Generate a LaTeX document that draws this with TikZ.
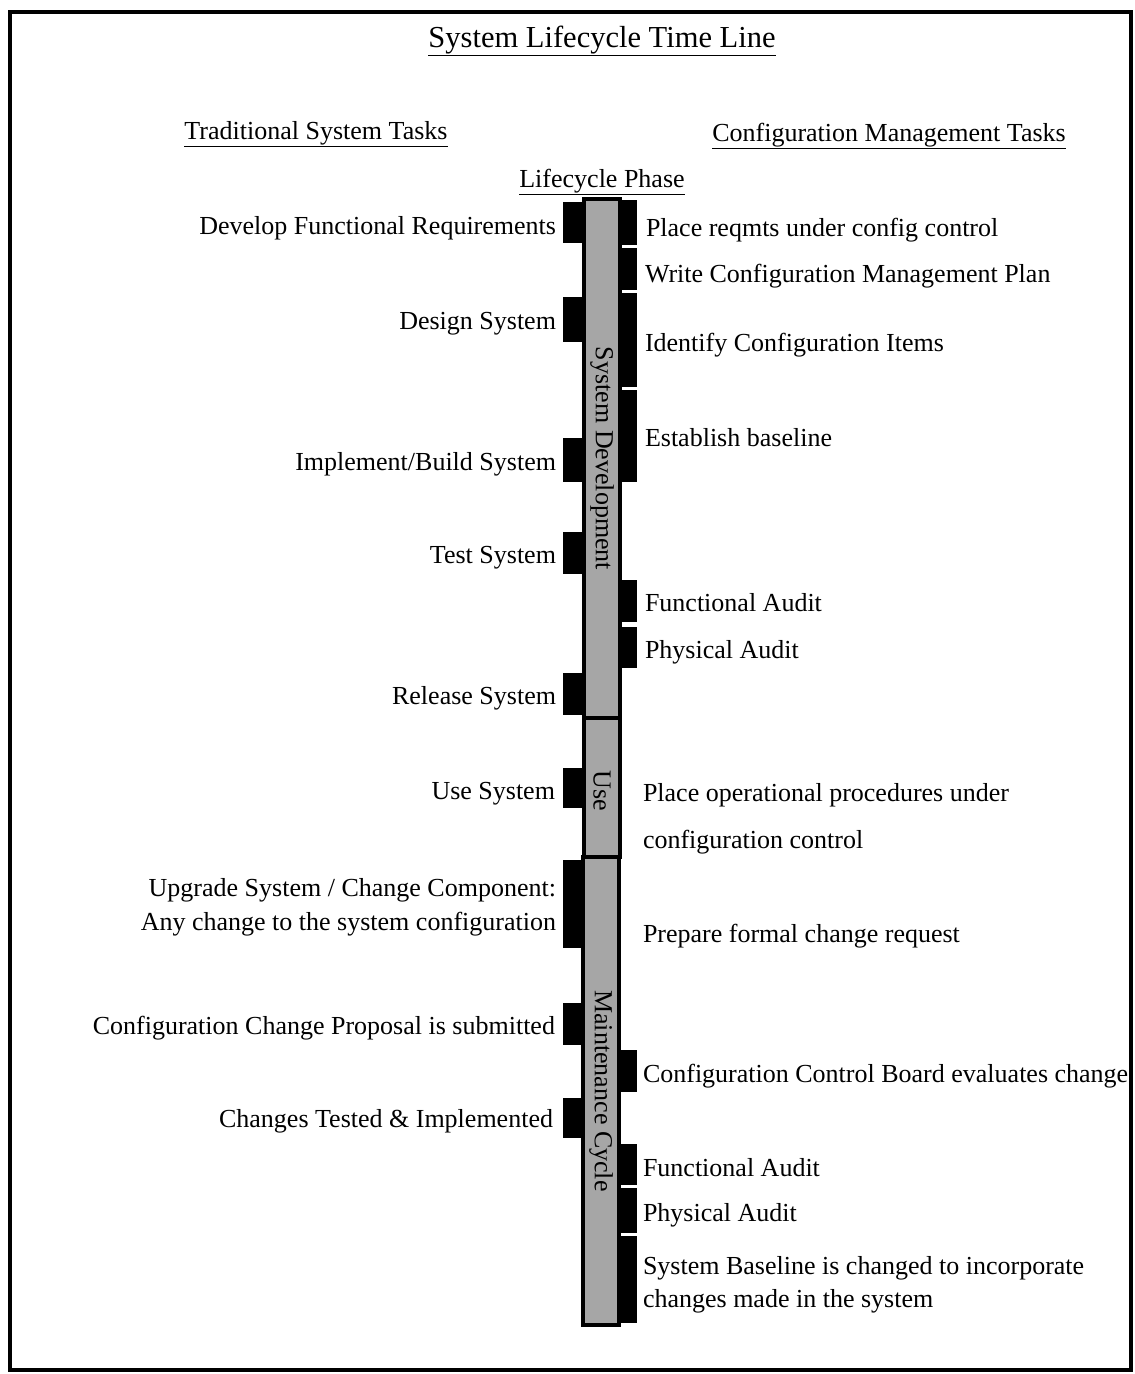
\documentclass[tikz,border=0pt]{standalone}
\usepackage{fontspec}
\setmainfont{Liberation Serif}
\begin{document}
\begin{tikzpicture}[x=1pt,y=-1pt,
  every node/.style={inner sep=0pt, outer sep=0pt},
  txt/.style={font=\fontsize{26}{30}\selectfont},
  lhs/.style={txt, anchor=base east},
  rhs/.style={txt, anchor=base west},
  head/.style={txt, anchor=base},
  phase/.style={draw=black, line width=4pt, fill=black!35},
  tabbox/.style={fill=black, draw=none},
  phaselabel/.style={txt, rotate=-90}
]
\useasboundingbox (0,0) rectangle (1135,1374);
% outer frame
\draw[line width=4pt] (10,12) rectangle (1131,1370);

% headings
\node[head, font=\fontsize{30.5}{34}\selectfont] (title) at (602,47) {\underline{System Lifecycle Time Line}};
\node[head] (hleft) at (316,139) {\underline{Traditional System Tasks}};
\node[head] (hright) at (889,141) {\underline{Configuration Management Tasks}};
\node[head] (hphase) at (602,187) {\underline{Lifecycle Phase}};

% tabs on the left of the bar: name, top, bottom
\newcommand\ltab[3]{\node[tabbox, minimum width=21pt, minimum height={(#3-#2)*1pt}] (#1) at (573.5,{(#2+#3)/2}) {};}
% tabs on the right of the bar
\newcommand\rtab[3]{\node[tabbox, minimum width=18pt, minimum height={(#3-#2)*1pt}] (#1) at (628,{(#2+#3)/2}) {};}

\ltab{L1}{202}{243}
\ltab{L2}{297}{342}
\ltab{L3}{438}{482}
\ltab{L4}{532}{574}
\ltab{L5}{673}{715}
\ltab{L6}{768}{808}
\ltab{L7}{860}{948}
\ltab{L8}{1003}{1045}
\ltab{L9}{1098}{1138}

\rtab{R1}{200}{245}
\rtab{R2}{248}{290}
\rtab{R3}{293}{387}
\rtab{R4}{390}{482}
\rtab{R5}{580}{622}
\rtab{R6}{627}{668}
\rtab{R7}{1050}{1092}
\rtab{R8}{1144}{1185}
\rtab{R9}{1188}{1233}
\rtab{R10}{1236}{1323}

% the phase bar
\node[phase, minimum width=36pt, minimum height=519pt] (dev) at (602,458.5) {};
\node[phase, minimum width=36pt, minimum height=139pt] (use) at (602,787.5) {};
\node[phase, minimum width=36pt, minimum height=468pt] (maint) at (601,1091) {};
\node[phaselabel] (devl) at (dev.center) {System Development};
\node[phaselabel] (usel) at ([yshift=-3pt]use.center) {Use};
\node[phaselabel] (maintl) at (maint.center) {Maintenance Cycle};

% traditional system tasks
\node[lhs] (t1) at (556,234) {Develop Functional Requirements};
\node[lhs] (t2) at (556,329) {Design System};
\node[lhs] (t3) at (556,470) {Implement/Build System};
\node[lhs] (t4) at (556,563) {Test System};
\node[lhs] (t5) at (556,704) {Release System};
\node[lhs] (t6) at (555,799) {Use System};
\node[lhs] (t7a) at (556,896) {Upgrade System / Change Component:};
\node[lhs] (t7b) at (556,930) {Any change to the system configuration};
\node[lhs] (t8) at (555,1034) {Configuration Change Proposal is submitted};
\node[lhs] (t9) at (553,1127) {Changes Tested \& Implemented};

% configuration management tasks
\node[rhs] (c1) at (646,236) {Place reqmts under config control};
\node[rhs] (c2) at (645,282) {Write Configuration Management Plan};
\node[rhs] (c3) at (645,351) {Identify Configuration Items};
\node[rhs] (c4) at (645,446) {Establish baseline};
\node[rhs] (c5) at (645,611) {Functional Audit};
\node[rhs] (c6) at (645,658) {Physical Audit};
\node[rhs] (c7a) at (643,801) {Place operational procedures under};
\node[rhs] (c7b) at (643,848) {configuration control};
\node[rhs] (c8) at (643,942) {Prepare formal change request};
\node[rhs] (c9) at (643,1082) {Configuration Control Board evaluates change};
\node[rhs] (c10) at (643,1176) {Functional Audit};
\node[rhs] (c11) at (643,1221) {Physical Audit};
\node[rhs] (c12a) at (643,1274) {System Baseline is changed to incorporate};
\node[rhs] (c12b) at (643,1307) {changes made in the system};
\end{tikzpicture}
\end{document}
